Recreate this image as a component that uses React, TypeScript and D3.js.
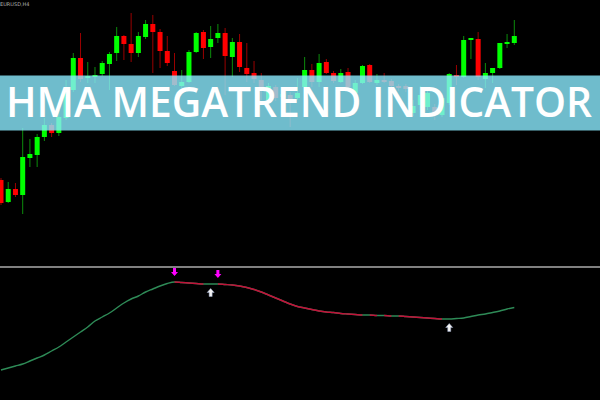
import * as d3 from "d3";

const W = 600;
const H = 400;

// candles, oldest first (price units, higher = up)
const opens = [70, 48, 61, 55, 92, 95, 113, 125, 117, 132, 160, 192, 172, 173, 176, 186, 197, 214, 206, 197, 213, 226, 218, 199, 179, 164, 168, 198, 218, 203, 212, 217, 193, 208, 182, 177, 170, 150, 163, 153, 155, 152, 163, 180, 168, 188, 177, 168, 178, 157, 167, 185, 167, 170, 169, 164, 164, 137, 145, 143, 143, 135, 147, 175, 173, 210, 211, 171, 177, 182, 206, 207];
const closes = [47, 61, 55, 93, 96, 113, 125, 117, 133, 158, 192, 171, 174, 175, 187, 196, 214, 206, 197, 214, 226, 218, 199, 187, 165, 168, 198, 217, 202, 211, 217, 194, 208, 183, 176, 171, 162, 164, 152, 156, 150, 157, 180, 168, 187, 177, 169, 177, 163, 167, 184, 168, 170, 168, 164, 162, 161, 144, 155, 157, 135, 152, 176, 173, 210, 212, 173, 177, 182, 207, 208, 214];
const highs = [72, 68, 67, 122, 111, 116, 132, 127, 140, 170, 197, 217, 188, 183, 189, 198, 223, 215, 237, 218, 230, 235, 221, 214, 197, 180, 200, 218, 220, 224, 226, 222, 212, 216, 207, 189, 177, 167, 165, 160, 158, 172, 193, 186, 196, 191, 179, 181, 182, 170, 185, 186, 176, 177, 171, 166, 166, 150, 164, 160, 146, 154, 177, 185, 214, 212, 218, 187, 182, 207, 216, 230];
const lows = [45, 47, 53, 36, 83, 83, 109, 113, 114, 130, 158, 168, 167, 167, 174, 160, 189, 190, 188, 193, 211, 177, 182, 184, 164, 162, 167, 197, 191, 192, 207, 155, 173, 178, 168, 167, 150, 148, 149, 151, 123, 150, 160, 163, 163, 176, 167, 167, 161, 153, 166, 167, 165, 167, 162, 159, 158, 134, 140, 140, 130, 133, 145, 165, 172, 191, 170, 162, 167, 181, 202, 205];

// HMA line value at each candle
const hma = [30, 32, 34, 36, 39, 42, 45, 49, 53, 58, 63, 68, 73, 79, 83, 87, 92, 97, 101, 104, 108, 111, 114, 116.5, 118, 117.5, 117, 116.5, 116, 116, 116, 115.5, 115, 114, 112.5, 110.5, 108, 105, 102, 99, 96, 93.5, 92, 90.5, 89, 88, 87.5, 86.5, 86, 85.5, 85, 85, 84.5, 84.5, 84, 84, 83.5, 83, 82.5, 82, 81.5, 81, 81, 81.5, 82, 83.5, 85, 86, 87.5, 89, 91, 92.5];

// signal arrows (candle index)
const sellSignals = [24, 30];
const buySignals = [29, 62];

const BULL = "#00ff00";
const BEAR = "#ff0000";
const UP_LINE = "#2e8b57";
const DOWN_LINE = "#c4103a";

export default function App() {
  const n = opens.length;
  const x = d3.scaleLinear().domain([0, n - 1]).range([1, 514.3]);
  const yPrice = d3.scaleLinear().domain([0, 250]).range([250, 0]);
  const yInd = d3.scaleLinear().domain([0, 132]).range([400, 268]);

  const bodyW = 5;

  const line = d3
    .line<number>()
    .x((_d, i) => x(i))
    .y((d) => yInd(d))
    .curve(d3.curveMonotoneX);
  const hmaPath = line(hma) || "";

  // x ranges where the HMA is falling -> drawn red
  const downRuns: [number, number][] = [];
  for (let i = 0; i < n - 1; i++) {
    if (hma[i + 1] < hma[i]) {
      const last = downRuns[downRuns.length - 1];
      if (last && last[1] === i) last[1] = i + 1;
      else downRuns.push([i, i + 1]);
    }
  }

  const downArrow = "M-1.5,-4H1.5V0H3.5L0,4L-3.5,0H-1.5Z";
  const upArrow = "M-1.5,4H1.5V0H3.5L0,-4L-3.5,0H-1.5Z";

  return (
    <svg
      width={W}
      height={H}
      style={{ position: "absolute", left: 0, top: 0, background: "#000" }}
    >
      <defs>
        <clipPath id="downClip">
          {downRuns.map(([a, b], k) => (
            <rect key={k} x={x(a)} y={260} width={x(b) - x(a)} height={140} />
          ))}
        </clipPath>
      </defs>
      <rect width={W} height={H} fill="#000" />
      <text x={0} y={6} fontSize={5} fill="#b0b0b0" fontFamily="DejaVu Sans">
        EURUSD,H4
      </text>

      {opens.map((o, i) => {
        const c = closes[i];
        const bull = c >= o;
        const top = yPrice(Math.max(o, c));
        const bot = yPrice(Math.min(o, c));
        const cx = x(i);
        return (
          <g key={i}>
            <line
              x1={cx}
              x2={cx}
              y1={yPrice(highs[i])}
              y2={yPrice(lows[i])}
              stroke={bull ? "#0c8c0c" : "#9a0000"}
              strokeWidth={1}
            />
            <rect
              x={cx - bodyW / 2}
              y={top}
              width={bodyW}
              height={Math.max(1.5, bot - top)}
              fill={bull ? BULL : BEAR}
            />
          </g>
        );
      })}

      {/* title banner */}
      <rect x={0} y={75.5} width={W} height={55} fill="rgb(139,235,255)" opacity={0.8} />
      <text
        x={6}
        y={117}
        fontSize={41}
        fontWeight={600}
        fill="#fff"
        fontFamily="'Open Sans', Lato, sans-serif"
        textLength={586}
        lengthAdjust="spacingAndGlyphs"
      >
        HMA MEGATREND INDICATOR
      </text>

      {/* sub window */}
      <line x1={0} x2={W} y1={267} y2={267} stroke="#808080" strokeWidth={2} />
      <path d={hmaPath} fill="none" stroke={UP_LINE} strokeWidth={1.4} />
      <path
        d={hmaPath}
        fill="none"
        stroke={DOWN_LINE}
        strokeWidth={1.4}
        clipPath="url(#downClip)"
      />
      {sellSignals.map((i) => (
        <path
          key={"s" + i}
          d={downArrow}
          transform={`translate(${x(i)},${yInd(hma[i]) - 10})`}
          fill="#ff00ff"
        />
      ))}
      {buySignals.map((i) => (
        <path
          key={"b" + i}
          d={upArrow}
          transform={`translate(${x(i)},${yInd(hma[i]) + 8.5})`}
          fill="#f2f2f2"
          stroke="#9aa8c8"
          strokeWidth={0.5}
        />
      ))}
    </svg>
  );
}
